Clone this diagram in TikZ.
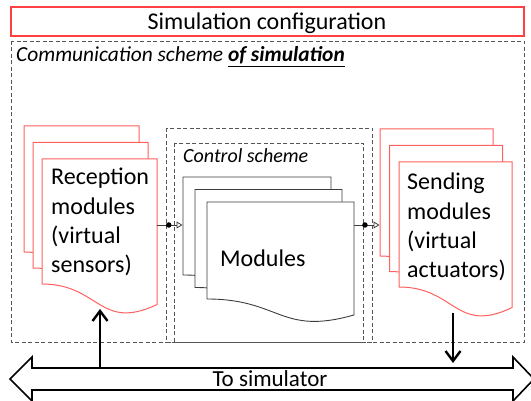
\documentclass[tikz,border=0pt]{standalone}
\usepackage{fontspec}
\setmainfont{Carlito}
\usetikzlibrary{arrows.meta}
\definecolor{boxred}{RGB}{255,64,64}
\definecolor{docred}{RGB}{255,96,96}
\definecolor{dashgray}{RGB}{85,85,85}
\definecolor{docgray}{RGB}{60,60,60}
\newcommand\docshape[5]{%
  \draw[#1] (#2,#3) -- ({#2+#4},#3) -- ({#2+#4},{#3+0.934*#5/0.802})
    .. controls ({#2+0.5*#4},{#3+1.1075*#5/0.802}) and ({#2+0.5*#4},{#3+#5}) .. (#2,{#3+#5}) -- cycle;}
\tikzset{
  dbox/.style={draw=dashgray, line width=0.9pt, dash pattern=on 4pt off 2.5pt},
  reddoc/.style={draw=docred, line width=1pt, fill=white},
  graydoc/.style={draw=docgray, line width=0.9pt, fill=white},
  conn/.style={draw=docgray, line width=0.8pt, -{Triangle[open, length=6pt, width=7pt]}},
  dotnode/.style={circle, fill=black, inner sep=0pt, minimum size=5.5pt},
  bigtxt/.style={font=\fontsize{24}{29.3}\selectfont, inner sep=0pt},
  simarrow/.style={line width=2.4pt, -{Straight Barb[length=10pt, width=15pt]}},
}
\begin{document}
\begin{tikzpicture}[x=1pt, y=-1pt]
\useasboundingbox (0,0) rectangle (531,401);
% title
\draw[boxred, line width=1.2pt] (11,7) rectangle (524,36);
\node[font=\fontsize{24}{28}\selectfont, inner sep=0pt, anchor=base] (title) at (267,29.5) {Simulation configuration};
% dashed boxes
\draw[dbox] (11,41) rectangle (524,342);
\draw[dbox] (166,128) rectangle (372,342);
\draw[dbox] (174,143) rectangle (363,342);
\node[font=\fontsize{21.4}{25}\selectfont\itshape, inner sep=0pt, anchor=base west] (comm) at (16,62)
  {Communication scheme \underline{\textbf{of simulation}}};
\node[font=\fontsize{20}{24}\selectfont\itshape, inner sep=0pt, anchor=base west] (ctrl) at (183,163) {Control scheme};
% reception docs
\docshape{reddoc}{24}{126}{115}{126}
\docshape{reddoc}{33}{142.5}{115}{125.5}
\docshape{reddoc}{42}{159}{115}{125}
\node[bigtxt, anchor=base west] (recv) at (51,185)
  {\parbox[t]{4cm}{\raggedright Reception\\modules\\(virtual\\sensors)}};
% control docs
\docshape{graydoc}{183}{177}{148}{98}
\docshape{graydoc}{195}{189.5}{147}{98}
\docshape{graydoc}{207}{202}{147}{97}
\node[bigtxt, anchor=base west] (mods) at (220,267) {Modules};
% sending docs
\docshape{reddoc}{380}{129}{113}{127}
\docshape{reddoc}{389.5}{145.5}{113}{126}
\docshape{reddoc}{399}{162}{113}{125}
\node[bigtxt, anchor=base west] (send) at (407,190)
  {\parbox[t]{4cm}{\raggedright Sending\\modules\\(virtual\\actuators)}};
% connectors
\coordinate (recvout) at (157,225);
\coordinate (ctrlin) at (182.5,225);
\coordinate (ctrlout) at (354,225);
\coordinate (sendin) at (379.5,225);
\draw[conn] (recvout) -- node[dotnode, pos=0.46] (d1) {} (ctrlin);
\draw[conn] (ctrlout) -- node[dotnode, pos=0.43] (d2) {} (sendin);
% simulator double arrow
\draw[line width=1.6pt, fill=white, line join=miter] (10,379) -- (32,357) -- (32,368) -- (513,368) -- (513,357) -- (534,379)
  -- (513,401) -- (513,390) -- (32,390) -- (32,401) -- cycle;
\node[font=\fontsize{23}{27}\selectfont, inner sep=0pt, anchor=base] (sim) at (270,386) {To simulator};
\coordinate (upfrom) at (100,367);
\coordinate (upto) at (100,309);
\coordinate (downfrom) at (453,313);
\coordinate (downto) at (453,363);
\draw[simarrow] (upfrom) -- (upto);
\draw[simarrow] (downfrom) -- (downto);
\end{tikzpicture}
\end{document}
